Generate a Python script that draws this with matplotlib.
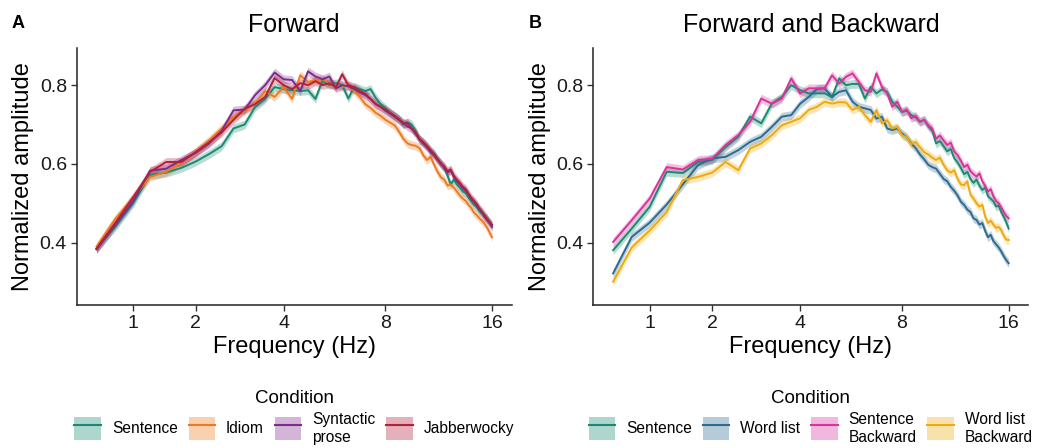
import numpy as np
import matplotlib
matplotlib.use("Agg")
import matplotlib.pyplot as plt
from matplotlib.patches import Patch
from matplotlib.lines import Line2D

plt.rcParams['font.family'] = ['Liberation Sans', 'DejaVu Sans']

# frequencies 0.5 .. 16 Hz in 0.25 Hz steps
freqs = np.arange(0.5, 16.01, 0.25)

# Panel A - Forward
labels_fwd = ["Sentence", "Idiom", "Syntactic\nprose", "Jabberwocky"]
sentence_fwd = [0.385, 0.440, 0.500, 0.572, 0.578, 0.590, 0.606, 0.625, 0.645, 0.690, 0.700, 0.745, 0.765, 0.795, 0.790,
                0.787, 0.785, 0.787, 0.765, 0.812, 0.800, 0.805, 0.800, 0.766, 0.795, 0.790, 0.785, 0.790, 0.768, 0.752, 0.742,
                0.730, 0.722, 0.715, 0.700, 0.706, 0.700, 0.684, 0.662, 0.655, 0.645, 0.632, 0.626, 0.612, 0.600, 0.590, 0.570,
                0.548, 0.560, 0.548, 0.540, 0.530, 0.526, 0.514, 0.505, 0.496, 0.490, 0.480, 0.474, 0.466, 0.462, 0.452, 0.440]
idiom_fwd = [0.390, 0.460, 0.515, 0.567, 0.580, 0.603, 0.630, 0.660, 0.690, 0.720, 0.735, 0.755, 0.785, 0.770, 0.795,
             0.765, 0.825, 0.808, 0.812, 0.815, 0.805, 0.800, 0.795, 0.800, 0.785, 0.770, 0.752, 0.742, 0.730, 0.722, 0.712,
             0.705, 0.698, 0.682, 0.664, 0.652, 0.648, 0.646, 0.640, 0.622, 0.610, 0.618, 0.598, 0.580, 0.566, 0.560, 0.545,
             0.548, 0.540, 0.530, 0.520, 0.512, 0.506, 0.496, 0.488, 0.476, 0.470, 0.462, 0.456, 0.448, 0.438, 0.426, 0.414]
syntactic_fwd = [0.383, 0.445, 0.505, 0.583, 0.588, 0.610, 0.628, 0.652, 0.684, 0.736, 0.738, 0.775, 0.800, 0.832, 0.815,
                 0.813, 0.785, 0.835, 0.822, 0.815, 0.822, 0.792, 0.800, 0.797, 0.790, 0.782, 0.775, 0.765, 0.752, 0.745, 0.735,
                 0.728, 0.720, 0.712, 0.705, 0.695, 0.690, 0.676, 0.662, 0.652, 0.642, 0.630, 0.622, 0.610, 0.602, 0.590, 0.578,
                 0.584, 0.566, 0.556, 0.548, 0.538, 0.532, 0.522, 0.510, 0.504, 0.494, 0.486, 0.478, 0.466, 0.458, 0.450, 0.442]
jabber_fwd = [0.385, 0.450, 0.515, 0.580, 0.605, 0.605, 0.630, 0.655, 0.680, 0.712, 0.740, 0.752, 0.770, 0.818, 0.800,
              0.790, 0.805, 0.800, 0.810, 0.800, 0.805, 0.795, 0.828, 0.800, 0.795, 0.785, 0.778, 0.765, 0.752, 0.745, 0.738,
              0.730, 0.722, 0.712, 0.702, 0.704, 0.690, 0.680, 0.664, 0.655, 0.646, 0.636, 0.624, 0.612, 0.600, 0.594, 0.582,
              0.586, 0.570, 0.560, 0.552, 0.542, 0.536, 0.524, 0.514, 0.506, 0.498, 0.486, 0.478, 0.470, 0.460, 0.452, 0.446]
se_fwd = [0.011, 0.011, 0.011, 0.011]

# Panel B - Forward and Backward
labels_bwd = ["Sentence", "Word list", "Sentence\nBackward", "Word list\nBackward"]
sentence_b = [0.381, 0.436, 0.491, 0.580, 0.577, 0.605, 0.610, 0.643, 0.669, 0.720, 0.703, 0.753, 0.770, 0.800, 0.787,
              0.779, 0.779, 0.779, 0.770, 0.817, 0.800, 0.803, 0.803, 0.766, 0.796, 0.779, 0.789, 0.783, 0.758, 0.745, 0.732,
              0.735, 0.724, 0.718, 0.707, 0.712, 0.696, 0.684, 0.652, 0.658, 0.645, 0.632, 0.638, 0.615, 0.604, 0.590, 0.574,
              0.580, 0.562, 0.552, 0.560, 0.545, 0.534, 0.540, 0.518, 0.512, 0.505, 0.492, 0.494, 0.478, 0.466, 0.452, 0.436]
wordlist_b = [0.322, 0.415, 0.451, 0.497, 0.548, 0.597, 0.614, 0.618, 0.635, 0.656, 0.669, 0.694, 0.720, 0.724, 0.753,
              0.770, 0.790, 0.792, 0.770, 0.783, 0.787, 0.758, 0.745, 0.741, 0.737, 0.715, 0.720, 0.690, 0.686, 0.690, 0.677,
              0.668, 0.652, 0.640, 0.624, 0.612, 0.598, 0.592, 0.588, 0.575, 0.562, 0.556, 0.542, 0.532, 0.520, 0.504, 0.496,
              0.484, 0.478, 0.462, 0.458, 0.446, 0.450, 0.430, 0.414, 0.420, 0.404, 0.396, 0.388, 0.378, 0.366, 0.356, 0.348]
sentence_back = [0.402, 0.457, 0.512, 0.592, 0.586, 0.610, 0.613, 0.648, 0.673, 0.707, 0.766, 0.753, 0.766, 0.817, 0.779,
                 0.792, 0.792, 0.792, 0.825, 0.804, 0.821, 0.830, 0.808, 0.787, 0.783, 0.830, 0.796, 0.779, 0.745, 0.758, 0.732,
                 0.738, 0.716, 0.722, 0.707, 0.712, 0.698, 0.690, 0.664, 0.672, 0.660, 0.648, 0.654, 0.632, 0.622, 0.608, 0.592,
                 0.598, 0.582, 0.574, 0.568, 0.576, 0.556, 0.544, 0.530, 0.536, 0.518, 0.506, 0.500, 0.490, 0.478, 0.468, 0.462]
wordlist_back = [0.301, 0.388, 0.431, 0.478, 0.559, 0.567, 0.578, 0.605, 0.584, 0.639, 0.652, 0.673, 0.698, 0.707, 0.716,
                 0.737, 0.745, 0.758, 0.753, 0.757, 0.756, 0.737, 0.745, 0.724, 0.707, 0.737, 0.703, 0.711, 0.690, 0.694, 0.673,
                 0.668, 0.650, 0.656, 0.642, 0.630, 0.624, 0.616, 0.610, 0.616, 0.598, 0.584, 0.578, 0.584, 0.562, 0.548, 0.546,
                 0.556, 0.522, 0.512, 0.500, 0.492, 0.496, 0.466, 0.450, 0.456, 0.446, 0.438, 0.440, 0.432, 0.418, 0.408, 0.407]
se_bwd = [0.011, 0.011, 0.011, 0.011]

colors_fwd = ["#1b8a72", "#ee7a1e", "#7e2b8e", "#b51f3a"]
colors_bwd = ["#1b8a72", "#2d6b91", "#d9339b", "#edab10"]

x_ticks = [1, 2, 4, 8, 16]
y_ticks = [0.4, 0.6, 0.8]


def fwd(x):
    return np.arcsinh(np.asarray(x) / 2.0)


def inv(y):
    return 2.0 * np.sinh(np.asarray(y))


def dibujarPanel(ax, series, se, colors, labels, title):
    ax.set_xscale('function', functions=(fwd, inv))
    for vals, s, c in zip(series, se, colors):
        vals = np.array(vals)
        ax.fill_between(freqs, vals - s, vals + s, color=c, alpha=0.3, lw=0)
    for vals, c in zip(series, colors):
        ax.plot(freqs, vals, color=c, lw=1.4)
    ax.set_xlim(0.2426, 18.16)
    ax.set_ylim(0.242, 0.895)
    ax.set_xticks(x_ticks)
    ax.set_xticklabels([str(t) for t in x_ticks])
    ax.set_yticks(y_ticks)
    ax.set_yticklabels([f"{t:.1f}" for t in y_ticks])
    ax.minorticks_off()
    ax.tick_params(labelsize=14, length=4, width=1, color="#333333", pad=3, labelcolor="#1a1a1a")
    for side in ["top", "right"]:
        ax.spines[side].set_visible(False)
    for side in ["left", "bottom"]:
        ax.spines[side].set_linewidth(1.1)
        ax.spines[side].set_color("#222222")
    ax.set_xlabel("Frequency (Hz)", fontsize=17, labelpad=3)
    ax.set_ylabel("Normalized amplitude", fontsize=17, labelpad=4)
    ax.set_title(title, fontsize=18, pad=11)

    handles = [(Patch(facecolor=c, alpha=0.35, edgecolor='none'), Line2D([], [], color=c, lw=1.5))
               for c in colors]
    leg = ax.legend(handles, labels, title="Condition", loc="upper center",
                    bbox_to_anchor=(0.5, -0.3), ncol=4, frameon=False,
                    fontsize=11.2, title_fontsize=13.5, handlelength=1.7, handleheight=1.9,
                    handletextpad=0.7, columnspacing=0.7, labelspacing=0.35, borderpad=0)
    # centrar textos de dos lineas con la caja
    for col in leg._legend_handle_box.get_children():
        col.align = "center"
        for item in col.get_children():
            item.align = "center"
    leg._legend_handle_box.align = "center"
    return leg


fig = plt.figure(figsize=(10.38, 4.48), dpi=100)
axA = fig.add_axes([0.0739, 0.3192, 0.4191, 0.5743])
axB = fig.add_axes([0.5716, 0.3192, 0.4191, 0.5743])

dibujarPanel(axA, [sentence_fwd, idiom_fwd, syntactic_fwd, jabber_fwd], se_fwd, colors_fwd, labels_fwd, "Forward")
dibujarPanel(axB, [sentence_b, wordlist_b, sentence_back, wordlist_back], se_bwd, colors_bwd, labels_bwd,
             "Forward and Backward")

fig.text(0.011, 0.948, "A", fontsize=13, fontweight="bold", va="center")
fig.text(0.509, 0.948, "B", fontsize=13, fontweight="bold", va="center")

fig.savefig("out.png", dpi=100)
